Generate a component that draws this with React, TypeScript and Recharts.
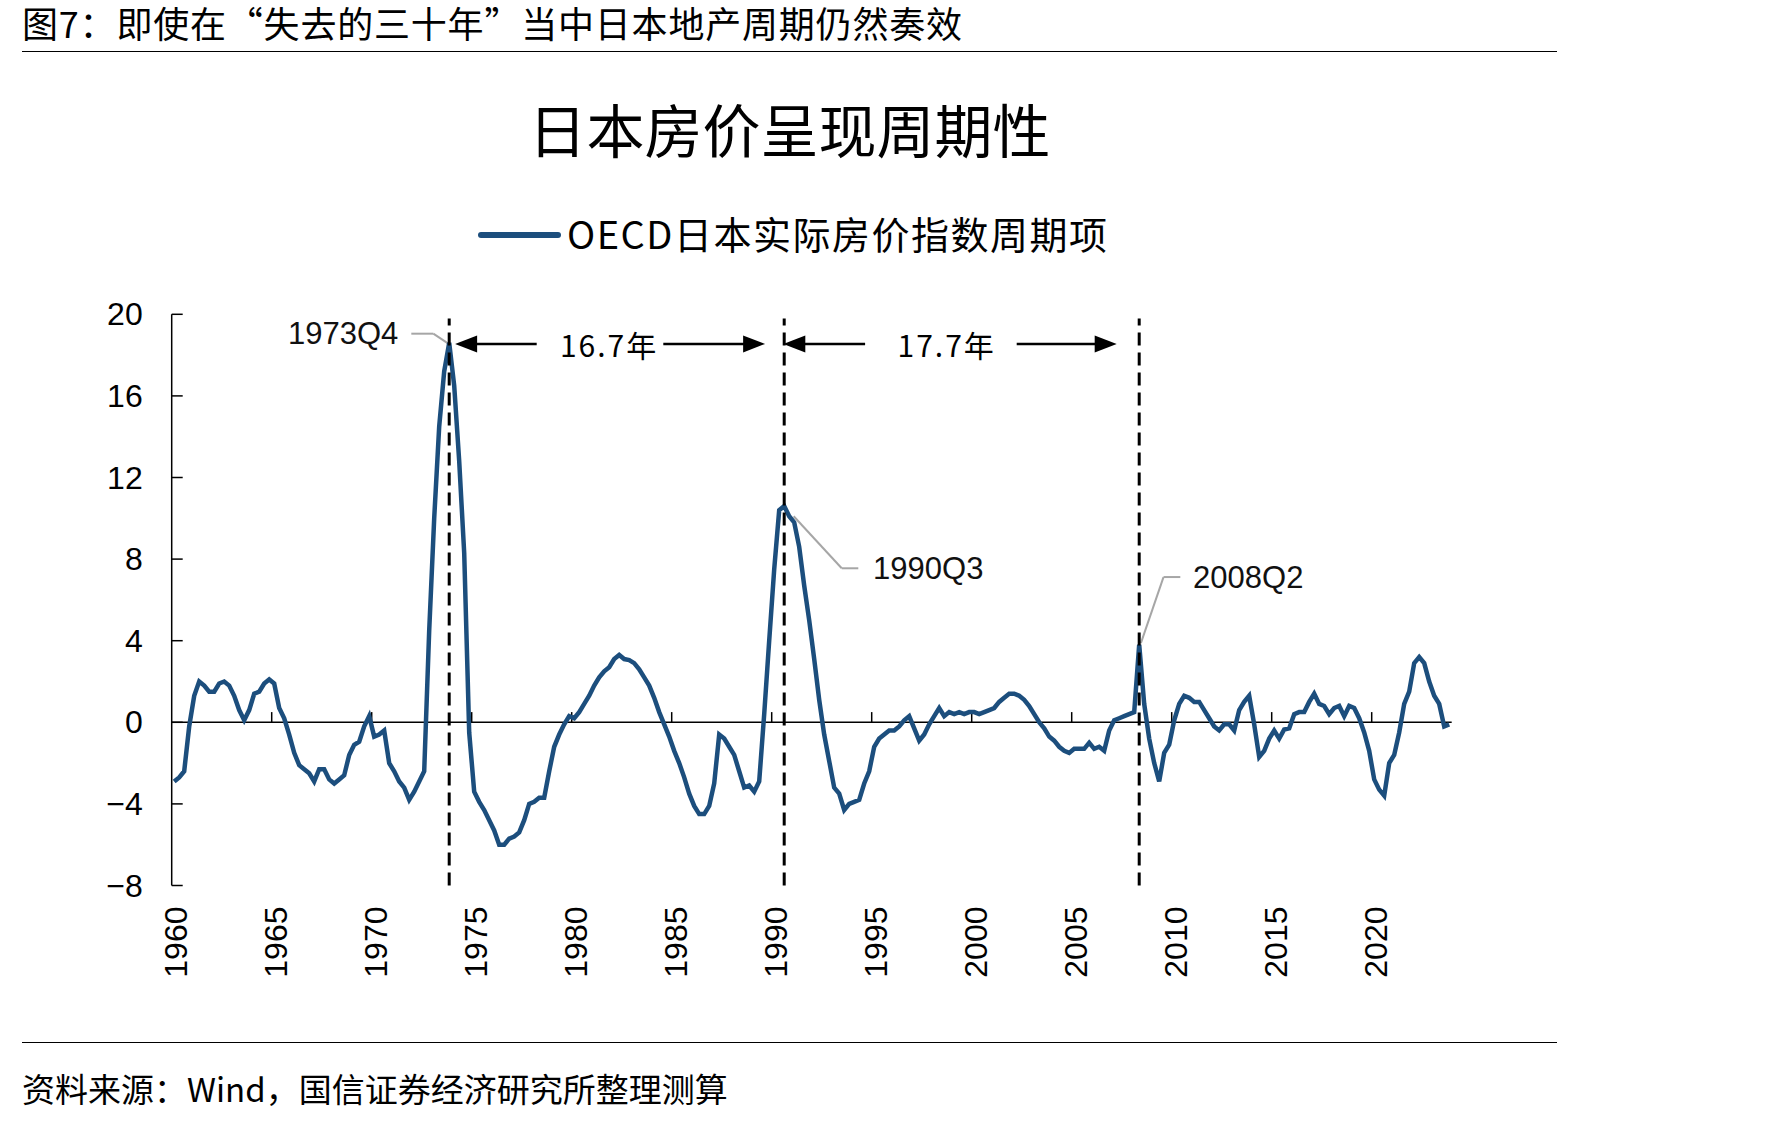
import React from "react";
import {
  LineChart, Line, XAxis, YAxis, ReferenceLine, ReferenceDot,
} from "recharts";

// ── OECD日本实际房价指数周期项，季度值（每行一年，Q1..Q4）──
const q1960s = [
  -2.9, -2.7, -2.4, -0.2,
  1.3, 2.0, 1.8, 1.5,
  1.5, 1.9, 2.0, 1.8,
  1.3, 0.6, 0.1, 0.6,
  1.4, 1.5, 1.9, 2.1,
  1.9, 0.7, 0.2, -0.6,
  -1.5, -2.1, -2.3, -2.5,
  -2.9, -2.3, -2.3, -2.8,
  -3.0, -2.8, -2.6, -1.6,
  -1.1, -0.95, -0.2, 0.3,
];
const q1970s = [
  -0.7, -0.6, -0.4, -2.0,
  -2.4, -2.9, -3.2, -3.8,
  -3.4, -2.9, -2.4, 4.5,
  10.0, 14.5, 17.2, 18.6,
  16.5, 12.8, 8.3, -0.5,
  -3.4, -3.9, -4.3, -4.8,
  -5.3, -6.0, -6.0, -5.7,
  -5.6, -5.4, -4.8, -4.0,
  -3.9, -3.7, -3.7, -2.4,
  -1.2, -0.6, -0.1, 0.3,
];
const q1980s = [
  0.2, 0.5, 0.9, 1.3,
  1.8, 2.2, 2.5, 2.7,
  3.1, 3.3, 3.1, 3.05,
  2.9, 2.6, 2.2, 1.8,
  1.2, 0.5, -0.1, -0.7,
  -1.4, -2.0, -2.7, -3.5,
  -4.1, -4.5, -4.5, -4.1,
  -3.0, -0.6, -0.8, -1.2,
  -1.6, -2.4, -3.2, -3.1,
  -3.4, -2.9, 0.4, 4.0,
];
const q1990s = [
  7.5, 10.4, 10.6, 10.1,
  9.8, 8.6, 6.7, 5.0,
  3.1, 1.1, -0.6, -1.9,
  -3.2, -3.5, -4.3, -4.0,
  -3.9, -3.8, -3.0, -2.4,
  -1.2, -0.8, -0.6, -0.4,
  -0.4, -0.2, 0.1, 0.3,
  -0.3, -0.9, -0.6, -0.1,
  0.3, 0.7, 0.3, 0.5,
  0.4, 0.5, 0.4, 0.5,
];
const q2000s = [
  0.5, 0.4, 0.5, 0.6,
  0.7, 1.0, 1.2, 1.4,
  1.4, 1.3, 1.1, 0.8,
  0.4, 0.0, -0.3, -0.7,
  -0.9, -1.2, -1.4, -1.5,
  -1.3, -1.3, -1.3, -1.0,
  -1.3, -1.2, -1.4, -0.4,
  0.1, 0.2, 0.3, 0.4,
  0.5, 3.8, 0.9, -0.8,
  -2.0, -2.9, -1.5, -1.1,
];
const q2010s = [
  0.1, 0.9, 1.3, 1.2,
  1.0, 1.0, 0.6, 0.2,
  -0.2, -0.4, -0.1, -0.1,
  -0.4, 0.6, 1.0, 1.3,
  -0.1, -1.7, -1.4, -0.8,
  -0.4, -0.8, -0.35, -0.3,
  0.4, 0.5, 0.5, 1.0,
  1.4, 0.9, 0.8, 0.4,
  0.7, 0.8, 0.3, 0.8,
  0.7, 0.2, -0.5, -1.4,
];
const q2020s = [
  -2.8, -3.3, -3.6, -2.0,
  -1.6, -0.5, 0.9, 1.5,
  2.9, 3.2, 2.9, 2.0,
  1.3, 0.9, -0.2, -0.1,
];

const startYear = 1960;
const yearTicks = [1960, 1965, 1970, 1975, 1980, 1985, 1990, 1995, 2000, 2005, 2010, 2015, 2020];
const valueTicks = [-8, -4, 0, 4, 8, 12, 16, 20];

// 三个峰值（季度中点）
const peaks = [
  { name: "1973Q4", t: 1973.875 },
  { name: "1990Q3", t: 1990.625 },
  { name: "2008Q2", t: 2008.375 },
];
const cycleLabels = ["16.7年", "17.7年"];

const values = [...q1960s, ...q1970s, ...q1980s, ...q1990s, ...q2000s, ...q2010s, ...q2020s];
const data = values.map((v, i) => ({ t: startYear + i / 4 + 0.125, v }));

const BLUE = "#1C4E7D";
const CJK = '"Noto Sans CJK SC", "Noto Sans", sans-serif';
const LATIN = '"Liberation Sans", Arial, sans-serif';

// 注释位置（数据坐标）
const ARROW_Y = 18.55;
const arrows = [
  { from: 1978.25, to: 1974.17 },
  { from: 1984.58, to: 1989.67 },
  { from: 1994.67, to: 1990.58 },
  { from: 2002.25, to: 2007.25 },
];
const arrowTexts = [
  { t: 1981.87, text: cycleLabels[0] },
  { t: 1998.75, text: cycleLabels[1] },
];
const leaders = [
  [{ x: 1971.98, y: 19.05 }, { x: 1973.08, y: 19.05 }, { x: 1973.83, y: 18.56 }],
  [{ x: 1991.1, y: 10.1 }, { x: 1993.5, y: 7.55 }, { x: 1994.33, y: 7.55 }],
  [{ x: 2008.46, y: 3.88 }, { x: 2009.59, y: 7.12 }, { x: 2010.43, y: 7.12 }],
];
const peakTexts = [
  { x: 1971.33, y: 19.05, anchor: "end" },
  { x: 1995.07, y: 7.55, anchor: "start" },
  { x: 2011.07, y: 7.12, anchor: "start" },
];

// eslint-disable-next-line @typescript-eslint/no-explicit-any
function YTick(props: any) {
  const { x, y, payload } = props;
  const v = payload.value;
  return (
    <g>
      <text x={x} y={y} textAnchor="end" dominantBaseline="central" fontFamily={LATIN} fontSize={32} fill="#000">
        {v < 0 ? `\u2212${Math.abs(v)}` : v}
      </text>
      <line x1={x + 29} y1={y} x2={x + 40} y2={y} stroke="#000" strokeWidth={1.5} />
    </g>
  );
}

// eslint-disable-next-line @typescript-eslint/no-explicit-any
function XTick(props: any) {
  const { x, y, payload } = props;
  const tx = x + 15;
  return (
    <text x={tx} y={y} transform={`rotate(-90 ${tx} ${y})`} textAnchor="end" fontFamily={LATIN} fontSize={32} fill="#000">
      {payload.value}
    </text>
  );
}

// eslint-disable-next-line @typescript-eslint/no-explicit-any
function arrowShape(p: any) {
  const { x1, y1, x2, y2 } = p;
  const dir = Math.sign(x2 - x1);
  const head = 22;
  const half = 8.5;
  return (
    <g>
      <line x1={x1} y1={y1} x2={x2 - dir * head * 0.7} y2={y2} stroke="#000" strokeWidth={2.5} />
      <polygon points={`${x2},${y2} ${x2 - dir * head},${y2 - half} ${x2 - dir * head},${y2 + half}`} fill="#000" />
    </g>
  );
}

export default function App() {
  return (
    <div style={{ position: "absolute", left: 0, top: 0, width: 1771, height: 1123, background: "#fff" }}>
      <div style={{ position: "absolute", left: 22, top: 2, fontFamily: CJK, fontSize: 36, lineHeight: "40px", letterSpacing: 0.8, color: "#000", whiteSpace: "nowrap" }}>
        图7：即使在“失去的三十年”当中日本地产周期仍然奏效
      </div>
      <div style={{ position: "absolute", left: 22, top: 51, width: 1535, borderTop: "1.5px solid #000" }} />

      <div style={{ position: "absolute", left: 0, top: 99, width: 1579, textAlign: "center", fontFamily: CJK, fontSize: 58, lineHeight: "58px", color: "#000", whiteSpace: "nowrap" }}>
        日本房价呈现周期性
      </div>

      <div style={{ position: "absolute", left: 478, top: 232, width: 83, height: 6, background: BLUE, borderRadius: 3 }} />
      <div style={{ position: "absolute", left: 567, top: 214, fontFamily: CJK, fontSize: 38, lineHeight: "38px", letterSpacing: 1.5, color: "#000", whiteSpace: "nowrap" }}>
        OECD日本实际房价指数周期项
      </div>

      <div style={{ position: "absolute", left: 0, top: 0 }}>
        <LineChart width={1771} height={1000} data={data} margin={{ top: 314.3, right: 319.3, bottom: 24.5, left: 101.7 }}>
          <XAxis
            dataKey="t"
            type="number"
            domain={[1960, 2024]}
            ticks={yearTicks}
            interval={0}
            axisLine={false}
            tickLine={false}
            tickSize={0}
            tickMargin={21}
            height={90}
            tick={<XTick />}
          />
          <YAxis
            type="number"
            domain={[-8, 20]}
            ticks={valueTicks}
            interval={0}
            width={70}
            axisLine={{ stroke: "#000", strokeWidth: 1.5 }}
            tickLine={false}
            tickSize={0}
            tickMargin={29}
            tick={<YTick />}
          />
          <ReferenceLine y={0} stroke="#000" strokeWidth={1.5} />
          {yearTicks.slice(1).map((t) => (
            <ReferenceLine key={`tk${t}`} segment={[{ x: t, y: 0 }, { x: t, y: 0.5 }]} stroke="#000" strokeWidth={1.5} />
          ))}
          {leaders.map((pts, i) => (
            <React.Fragment key={`ld${i}`}>
              <ReferenceLine segment={[pts[0], pts[1]]} stroke="#A6A6A6" strokeWidth={2} />
              <ReferenceLine segment={[pts[1], pts[2]]} stroke="#A6A6A6" strokeWidth={2} />
            </React.Fragment>
          ))}
          <Line
            type="linear"
            dataKey="v"
            stroke={BLUE}
            strokeWidth={4.5}
            dot={false}
            isAnimationActive={false}
          />
          {peaks.map((p) => (
            <ReferenceLine
              key={`pk${p.name}`}
              segment={[{ x: p.t, y: -8 }, { x: p.t, y: 19.8 }]}
              stroke="#000"
              strokeWidth={3}
              strokeDasharray="13 7"
            />
          ))}
          {arrows.map((a, i) => (
            <ReferenceLine
              key={`ar${i}`}
              segment={[{ x: a.from, y: ARROW_Y }, { x: a.to, y: ARROW_Y }]}
              shape={arrowShape}
            />
          ))}
          {arrowTexts.map((a) => (
            <ReferenceDot
              key={a.text}
              x={a.t}
              y={ARROW_Y}
              // eslint-disable-next-line @typescript-eslint/no-explicit-any
              shape={(p: any) => (
                <text x={p.cx} y={p.cy} textAnchor="middle" dominantBaseline="central" fontFamily={CJK} fontSize={30} letterSpacing={2} fill="#000">
                  {a.text}
                </text>
              )}
            />
          ))}
          {peakTexts.map((pt, i) => (
            <ReferenceDot
              key={peaks[i].name}
              x={pt.x}
              y={pt.y}
              // eslint-disable-next-line @typescript-eslint/no-explicit-any
              shape={(p: any) => (
                <text x={p.cx} y={p.cy} textAnchor={pt.anchor as "start" | "end"} dominantBaseline="central" fontFamily={LATIN} fontSize={31} fill="#111">
                  {peaks[i].name}
                </text>
              )}
            />
          ))}
        </LineChart>
      </div>

      <div style={{ position: "absolute", left: 22, top: 1042, width: 1535, borderTop: "1.5px solid #000" }} />
      <div style={{ position: "absolute", left: 22, top: 1072, fontFamily: CJK, fontSize: 33, lineHeight: "33px", color: "#000", whiteSpace: "nowrap" }}>
        资料来源：Wind，国信证券经济研究所整理测算
      </div>
    </div>
  );
}
